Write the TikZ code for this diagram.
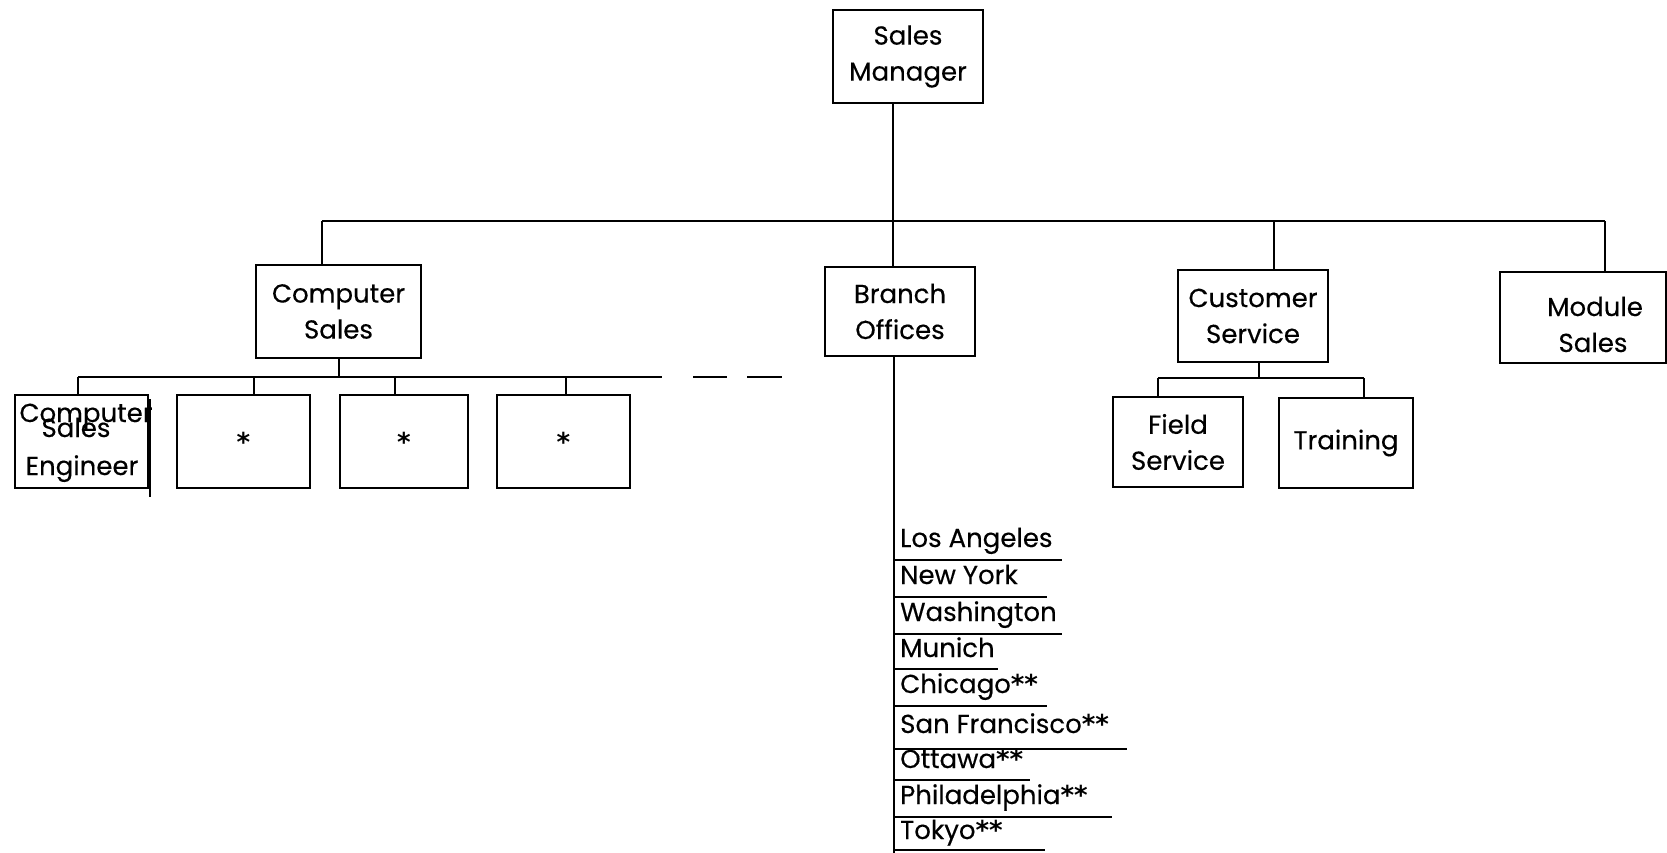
\documentclass[tikz,border=0pt]{standalone}
\usepackage{fontspec}
\setmainfont{Poppins}[FakeBold=0.3]
\newfontfamily\astfont{DejaVu Sans}
\newcommand{\myast}{{\astfont\bfseries *}}
\begin{document}
\begin{tikzpicture}[x=1pt,y=-1pt,
  line width=2.4pt,
  every node/.style={font=\fontsize{26}{36}\selectfont},
  box/.style={draw, line width=2.4pt, inner sep=0pt, align=center},
  txt/.style={inner sep=0pt, anchor=base},
  city/.style={inner sep=0pt, anchor=base west}]
\useasboundingbox (0,0) rectangle (1667,853);

% top level
\node[box, minimum width=150pt, minimum height=93pt] (sm) at (908,56.5) {Sales\\Manager};

% second level
\node[box, minimum width=165pt, minimum height=93pt] (cs) at (338.5,311.5) {Computer\\Sales};
\node[box, minimum width=150pt, minimum height=89pt] (bo) at (900,311.5) {Branch\\Offices};
\node[box, minimum width=150pt, minimum height=92pt] (cus) at (1253,316) {Customer\\Service};
\node[box, minimum width=166pt, minimum height=91pt] (ms) at (1583,317.5) {};
\node[txt] (mst1) at (1595,316) {Module};
\node[txt] (mst2) at (1593,352) {Sales};

% computer sales children
\node[box, minimum width=133pt, minimum height=93pt] (c1) at (81.5,441.5) {};
\node[txt] (c1a) at (86,422) {Computer};
\node[txt] (c1b) at (76,437) {Sales};
\node[txt] (c1c) at (82,475) {Engineer};
\coordinate (c1x1) at (150,399);
\coordinate (c1x2) at (150,497);
\draw (c1x1) -- (c1x2);
\node[box, minimum width=133pt, minimum height=93pt] (c2) at (243.5,441.5) {\myast};
\node[box, minimum width=128pt, minimum height=93pt] (c3) at (404,441.5) {\myast};
\node[box, minimum width=133pt, minimum height=93pt] (c4) at (563.5,441.5) {\myast};

% customer service children
\node[box, minimum width=130pt, minimum height=90pt] (fs) at (1178,442) {Field\\Service};
\node[box, minimum width=134pt, minimum height=90pt] (tr) at (1346,443) {Training};

% main bus
\coordinate (b1) at (322,221);
\coordinate (b2) at (893,221);
\coordinate (b3) at (1274,221);
\coordinate (b4) at (1605,221);
\draw (b1) -- (b4);
\draw (b1) -- (b1 |- cs.north);
\draw (sm.south -| b2) -- (bo.north -| b2);
\draw (b3) -- (b3 |- cus.north);
\draw (b4) -- (b4 |- ms.north);

% computer sales bus
\coordinate (s0) at (339,377);
\coordinate (s1) at (78,377);
\coordinate (s2) at (254,377);
\coordinate (s3) at (395,377);
\coordinate (s4) at (566,377);
\coordinate (se) at (662,377);
\coordinate (d1a) at (693,377);
\coordinate (d1b) at (727,377);
\coordinate (d2a) at (747,377);
\coordinate (d2b) at (782,377);
\draw (s1) -- (se);
\draw (d1a) -- (d1b);
\draw (d2a) -- (d2b);
\draw (cs.south -| s0) -- (s0);
\draw (s1) -- (s1 |- c1.north);
\draw (s2) -- (s2 |- c2.north);
\draw (s3) -- (s3 |- c3.north);
\draw (s4) -- (s4 |- c4.north);

% customer service bus
\coordinate (t0) at (1259,378);
\coordinate (t1) at (1158,378);
\coordinate (t2) at (1364,378);
\draw (t1) -- (t2);
\draw (cus.south -| t0) -- (t0);
\draw (t1) -- (t1 |- fs.north);
\draw (t2) -- (t2 |- tr.north);

% branch offices list
\coordinate (bend) at (894,853);
\draw (bo.south -| bend) -- (bend);
\foreach \n/\t/\y/\b/\e in {la/Los Angeles/560/547/1062,
    ny/New York/597/584/1047,
    wa/Washington/634/621/1062,
    mu/Munich/669/657/998,
    ch/Chicago\myast\myast/706/693/1047,
    sf/San Francisco\myast\myast/749/733/1127,
    ot/Ottawa\myast\myast/780/768/1030,
    ph/Philadelphia\myast\myast/817/804/1112,
    to/Tokyo\myast\myast/850/839/1045} {
  \node[city] (\n) at (899,\b) {\t};
  \draw[line width=2pt] (bend |- \n.base) ++(0,\y-\b) -- (\e,\y);
}
\end{tikzpicture}
\end{document}
